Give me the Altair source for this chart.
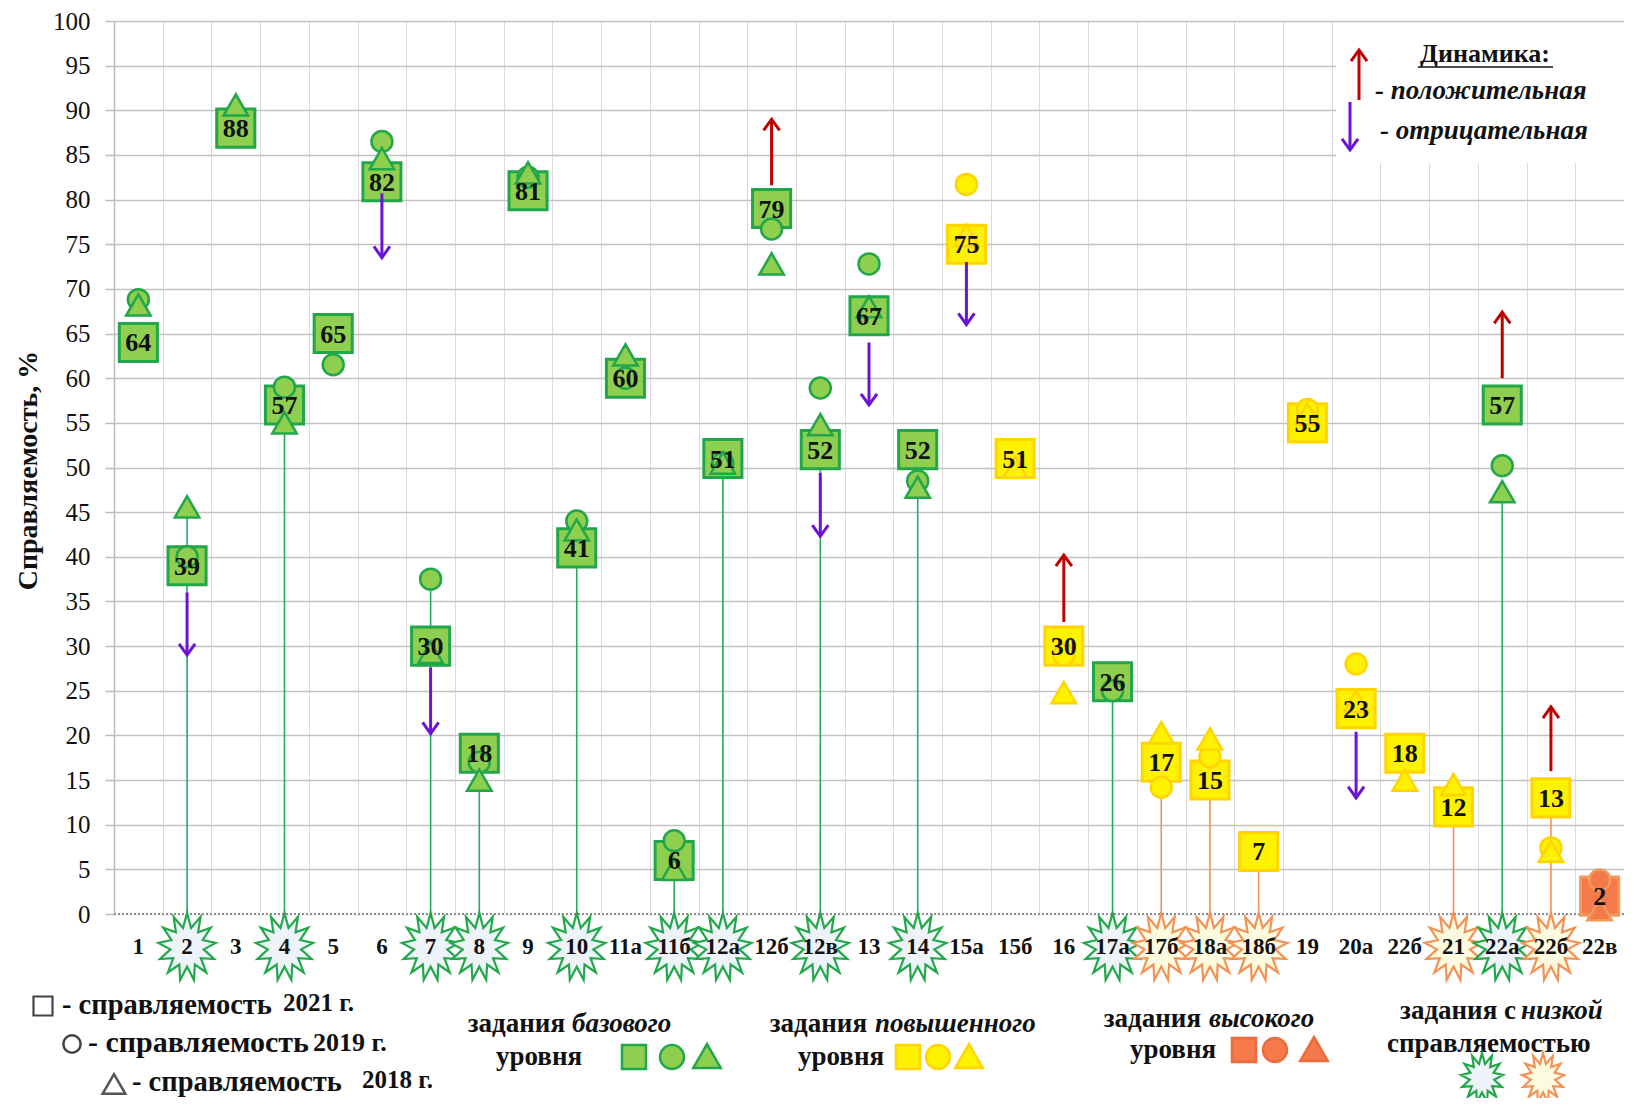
import math
import altair as alt
import pandas as pd

# ---------------- data ----------------
categories = ["1", "2", "3", "4", "5", "6", "7", "8", "9", "10", "11а", "11б", "12а", "12б", "12в",
              "13", "14", "15а", "15б", "16", "17а", "17б", "18а", "18б", "19", "20а", "22б", "21",
              "22а", "22б", "22в"]
# b = базовый, a = повышенный, h = высокий
levels = ["b"] * 17 + ["a", "a", "a", "b", "a", "a", "a", "a", "a", "a", "a", "b", "a", "h"]
v2021 = [64, 39, 88, 57, 65, 82, 30, 18, 81, 41, 60, 6, 51, 79, 52, 67, 52, 75, 51, 30, 26, 17,
         15, 7, 55, 23, 18, 12, 57, 13, 2]
v2019 = [68.8, 40, None, 59, 61.5, 86.5, 37.5, 17, 82.5, 44, 60, 8.2, 50.5, 76.7, 58.9, 72.8,
         48.5, 81.7, None, 29, 25, 14.2, 17.6, None, 56.5, 28, None, None, 50.2, 7.4, 3.8]
v2018 = [68.2, 45.6, 90.6, 55, None, 84.6, 29.3, 15, 83, 43, 62.6, 5, 50.5, 72.8, 54.8, 68,
         47.8, 76, 50, 24.8, None, 20.3, 19.6, None, 56, 23.8, 15, 14.5, 47.3, 7, 0.5]
# low-performance marks (g = базовый, o = повышенный)
low_kind = ["", "g", "", "g", "", "", "g", "g", "", "g", "", "g", "g", "", "g", "", "g", "", "",
            "", "g", "o", "o", "o", "", "", "", "o", "g", "o", ""]
stem_top = [None, 45, None, 55, None, None, 37, 15, None, 41, None, 5, 50, None, 52, None, 48,
            None, None, None, 25, 14, 15, 6, None, None, None, 12, 47, 12, None]
arrow_idx = [1, 5, 6, 13, 14, 15, 17, 19, 25, 28, 29]
arrow_from = [36, 80.7, 27.6, 81.6, 49.4, 64, 73, 32.7, 20.4, 60, 16]
arrow_to = [29, 73.5, 20.2, 89, 42.3, 57, 66, 40.2, 13, 67.4, 23.2]

# ---------------- layout / style ----------------
W, H = 1510, 893
X0, Y0 = 114, 21
FONT = "Liberation Serif"
FILL = {"b": "#8fcf4f", "a": "#fff200", "h": "#f47a4c"}
STROKE = {"b": "#22a64a", "a": "#ffd400", "h": "#f29a5a"}
STAR_STROKE = {"g": "#22a84a", "o": "#f39255"}
STAR_FILL = {"g": "#eef3fa", "o": "#fdfbdf"}
STEM = {"g": "#2aa862", "o": "#f0925e"}
RED = "#c00000"
PURPLE = "#6a12d6"


def px(v):
    return v - X0


def py(v):
    return v - Y0


def star_path(n=13, r_in=0.58, sx=0.85):
    pts = []
    for k in range(2 * n):
        a = -math.pi / 2 + k * math.pi / n
        r = 1.0 if k % 2 == 0 else r_in
        pts.append((sx * r * math.cos(a), r * math.sin(a)))
    return "M " + " L ".join(f"{x:.3f} {y:.3f}" for x, y in pts) + " Z"


STAR = star_path()
HEAD_DOWN = "M -1 -1.4 L 0 0 L 1 -1.4"
HEAD_UP = "M -1 1.4 L 0 0 L 1 1.4"

xs = alt.Scale(domain=[0, 31], nice=False, zero=False)
ys = alt.Scale(domain=[0, 100], nice=False, zero=False)

x_axis = alt.Axis(values=list(range(0, 32)), grid=True, gridColor="#dadada", gridWidth=1,
                  labels=False, ticks=False, domain=False, title=None)
y_axis = alt.Axis(values=list(range(0, 101, 5)), grid=True, gridColor="#c2c2c2", gridWidth=1.5,
                  domain=True, domainColor="#bdbdbd", domainWidth=1.5, ticks=True,
                  tickColor="#bdbdbd", tickSize=9, tickWidth=1.5,
                  labelFont=FONT, labelFontSize=25, labelColor="#111111", labelPadding=15,
                  title="Справляемость, %", titleFont=FONT, titleFontSize=28,
                  titleFontWeight="bold", titleColor="#111111", titleAngle=270,
                  titleX=28 - X0, titleY=470 - Y0, titleAlign="center", titleBaseline="middle")

# ---------------- tables ----------------
rows = []
for i, c in enumerate(categories):
    for year, arr in (("2021", v2021), ("2019", v2019), ("2018", v2018)):
        if arr[i] is not None:
            rows.append({"x": i + 0.5, "v": arr[i], "year": year, "cat": c,
                         "fill": FILL[levels[i]], "stroke": STROKE[levels[i]]})
pts = pd.DataFrame(rows)

stems = pd.DataFrame([{"x": i + 0.5, "v": stem_top[i], "color": STEM[low_kind[i]]}
                      for i in range(len(categories)) if low_kind[i]])
stars = pd.DataFrame([{"x": i + 0.5, "fill": STAR_FILL[low_kind[i]], "stroke": STAR_STROKE[low_kind[i]]}
                      for i in range(len(categories)) if low_kind[i]])
xlab = pd.DataFrame({"x": [i + 0.5 for i in range(len(categories))], "lab": categories})
arr = pd.DataFrame({"x": [i + 0.5 for i in arrow_idx], "v": arrow_from, "v2": arrow_to})
arr["up"] = arr["v2"] > arr["v"]
arr_up = arr[arr["up"]]
arr_dn = arr[~arr["up"]]
heads_up = arr_up[["x", "v2"]].rename(columns={"v2": "v"})
heads_dn = arr_dn[["x", "v2"]].rename(columns={"v2": "v"})


def X():
    return alt.X("x:Q", scale=xs, axis=x_axis)


def Y():
    return alt.Y("v:Q", scale=ys, axis=y_axis)


one = pd.DataFrame({"a": [0]})

layers = []

sq = pts[pts.year == "2021"]
ci = pts[pts.year == "2019"]
tr = pts[pts.year == "2018"]

# legend white box over the grid
layers.append(alt.Chart(one).mark_rect(color="white").encode(
    x=alt.value(px(1336)), x2=alt.value(px(1640)), y=alt.value(2), y2=alt.value(py(163))))
# zero line dotted
layers.append(alt.Chart(one).mark_rule(color="white", strokeWidth=2).encode(
    x=alt.value(0), x2=alt.value(W), y=alt.value(H)))
layers.append(alt.Chart(one).mark_rule(color="#8c8c8c", strokeWidth=2, strokeDash=[2, 2]).encode(
    x=alt.value(0), x2=alt.value(W), y=alt.value(H)))
# stems
layers.append(alt.Chart(stems).mark_rule(strokeWidth=1.6).encode(
    x=X(), y=Y(), y2=alt.value(H + 28), color=alt.Color("color:N", scale=None)))
# stars
layers.append(alt.Chart(stars).mark_point(shape=STAR, size=4624, filled=True, strokeWidth=2.2,
                                          opacity=1).encode(
    x=X(), y=alt.value(H + 33), fill=alt.Fill("fill:N", scale=None),
    stroke=alt.Stroke("stroke:N", scale=None)))
# category labels
layers.append(alt.Chart(xlab).mark_text(font=FONT, fontSize=23, fontWeight="bold", color="#111111",
                                        baseline="middle", align="center").encode(
    x=X(), y=alt.value(H + 33), text="lab:N"))

layers.append(alt.Chart(sq).mark_point(shape="square", size=1450, filled=True, strokeWidth=3,
                                       opacity=1).encode(
    x=X(), y=Y(), fill=alt.Fill("fill:N", scale=None), stroke=alt.Stroke("stroke:N", scale=None)))
layers.append(alt.Chart(ci).mark_point(shape="circle", size=440, filled=True, strokeWidth=2.5,
                                       opacity=1).encode(
    x=X(), y=Y(), fill=alt.Fill("fill:N", scale=None), stroke=alt.Stroke("stroke:N", scale=None)))
layers.append(alt.Chart(tr).mark_point(shape="triangle-up", size=600, filled=True, strokeWidth=2.5,
                                       opacity=1).encode(
    x=X(), y=Y(), fill=alt.Fill("fill:N", scale=None), stroke=alt.Stroke("stroke:N", scale=None)))
layers.append(alt.Chart(sq).mark_text(font=FONT, fontSize=26, fontWeight="bold", color="#111111",
                                      baseline="middle", align="center", dy=1).encode(
    x=X(), y=Y(), text=alt.Text("v:Q", format="d")))

# dynamics arrows
for df, hd, col, head in ((arr_up, heads_up, RED, HEAD_UP), (arr_dn, heads_dn, PURPLE, HEAD_DOWN)):
    layers.append(alt.Chart(df).mark_rule(color=col, strokeWidth=3).encode(
        x=X(), y=Y(), y2="v2:Q"))
    layers.append(alt.Chart(hd).mark_point(shape=head, size=256, filled=False, color=col,
                                           strokeWidth=3, opacity=1).encode(x=X(), y=Y()))


# ---------------- legends ----------------
def txt(s, x, y, size=27, style="normal", weight="bold", align="left"):
    return alt.Chart(pd.DataFrame({"t": [s]})).mark_text(
        font=FONT, fontSize=size, fontStyle=style, fontWeight=weight, align=align,
        baseline="middle", color="#111111").encode(x=alt.value(px(x)), y=alt.value(py(y)), text="t:N")


def sym(shape, x, y, size, fill, stroke, sw=2.5):
    return alt.Chart(one).mark_point(shape=shape, size=size, filled=True, fill=fill, stroke=stroke,
                                     strokeWidth=sw, opacity=1).encode(
        x=alt.value(px(x)), y=alt.value(py(y)))


def arrow(x, y_tail, y_tip, col, head):
    return [alt.Chart(one).mark_rule(color=col, strokeWidth=3).encode(
                x=alt.value(px(x)), y=alt.value(py(y_tail)), y2=alt.value(py(y_tip))),
            alt.Chart(one).mark_point(shape=head, size=256, filled=False, color=col, strokeWidth=3,
                                      opacity=1).encode(x=alt.value(px(x)), y=alt.value(py(y_tip)))]


# top-right: dynamics
layers.append(txt("Динамика:", 1485, 54, size=26, align="center"))
layers.append(alt.Chart(one).mark_rule(color="#111111", strokeWidth=1.5).encode(
    x=alt.value(px(1418)), x2=alt.value(px(1553)), y=alt.value(py(67))))
layers.append(txt("- положительная", 1375, 91, size=27, style="italic"))
layers.append(txt("- отрицательная", 1380, 131, size=27, style="italic"))
layers += arrow(1359, 100, 50, RED, HEAD_UP)
layers += arrow(1350, 102, 150, PURPLE, HEAD_DOWN)

# bottom-left: years
layers.append(sym("square", 43, 1006, 361, "white", "#444444", 2.2))
layers.append(txt("- справляемость", 62, 1005, size=28.5))
layers.append(txt("2021 г.", 283, 1003, size=25))
layers.append(sym("circle", 72, 1044, 300, "white", "#444444", 2.5))
layers.append(txt("- справляемость", 88, 1043, size=30))
layers.append(txt("2019 г.", 313, 1043, size=26))
layers.append(sym("triangle-up", 114, 1084, 520, "white", "#555555", 2.5))
layers.append(txt("- справляемость", 132, 1082, size=28.5))
layers.append(txt("2018 г.", 362, 1080, size=25))

# level groups
groups = [
    ("задания", "базового", 565, 572, 1024, 496, 1057, "b", [634, 672, 707]),
    ("задания", "повышенного", 867, 875, 1024, 798, 1057, "a", [908, 938, 969]),
    ("задания", "высокого", 1201, 1209, 1019, 1130, 1050, "h", [1244, 1275, 1314]),
]
for w1, w2, xr, xl, yt, xu, yu, lv, ix in groups:
    sc = STROKE[lv] if lv != "h" else "#ef6a3a"
    layers.append(txt(w1, xr, yt, align="right"))
    layers.append(txt(w2, xl, yt, style="italic"))
    layers.append(txt("уровня", xu, yu))
    layers.append(sym("square", ix[0], yu, 576, FILL[lv], sc, 2.5))
    layers.append(sym("circle", ix[1], yu, 576, FILL[lv], sc, 2.5))
    layers.append(sym("triangle-up", ix[2], yu - 1, 760, FILL[lv], sc, 2.5))

layers.append(txt("задания с", 1516, 1011, align="right"))
layers.append(txt("низкой", 1521, 1011, style="italic"))
layers.append(txt("справляемостью", 1387, 1044))
layers.append(sym(STAR, 1482, 1078, 2500, STAR_FILL["g"], STAR_STROKE["g"], 2.2))
layers.append(sym(STAR, 1543, 1078, 2500, STAR_FILL["o"], STAR_STROKE["o"], 2.2))

chart = alt.layer(*layers).properties(
    width=W, height=H,
    autosize=alt.AutoSizeParams(type="none"),
    padding={"left": X0 - 8, "top": Y0 - 8, "right": 0, "bottom": 184},
    background="white",
).configure_view(stroke="transparent")

chart.save("out.html", embed_options={"renderer": "svg", "actions": False})
